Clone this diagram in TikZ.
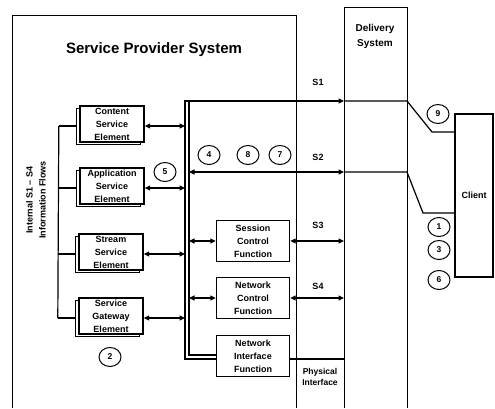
\documentclass[tikz,border=0pt]{standalone}
\usepackage{fontspec}
\setmainfont{Liberation Sans}
\usetikzlibrary{shapes.geometric}
\usetikzlibrary{shadows}
\usetikzlibrary{arrows.meta}

\tikzset{
  lbl/.style={align=center, inner sep=0pt, font=\fontsize{9}{13}\selectfont\bfseries},
  elem/.style={lbl, draw, fill=white, line width=1.4pt, minimum width=64pt, minimum height=36pt,
    copy shadow={shadow xshift=-3.5pt, shadow yshift=-2.5pt, draw, fill=white, line width=1.4pt}},
  func/.style={lbl, draw, line width=1.4pt, minimum width=73pt, minimum height=41pt},
  num/.style={ellipse, draw, line width=1pt, minimum width=22pt, minimum height=19pt, inner sep=0pt,
    font=\fontsize{8.5}{10}\selectfont\bfseries},
  frame/.style={line width=1pt},
}

\begin{document}
\begin{tikzpicture}[x=1pt, y=-1pt, line width=1.2pt, >={Triangle[length=5.5pt,width=5pt]}]
  \useasboundingbox (0,0) rectangle (495,408);

  % frames
  \draw[frame] (12,408) -- (12,15) -- (296,15) -- (296,408);
  \draw[frame] (344,408) -- (344,7) -- (407,7) -- (407,408);

  \node[lbl, font=\fontsize{15}{17}\selectfont\bfseries] (sps) at (154,50) {Service Provider System};
  \node[lbl, font=\fontsize{10}{15}\selectfont\bfseries] (ds) at (375,36) {Delivery\\System};
  \node[lbl, rotate=90] (flows) at (36,200) {Internal S1 -- S4\\Information Flows};

  % service elements
  \node[elem] (cse) at (112,124) {Content\\Service\\Element};
  \node[elem] (ase) at (112,186) {Application\\Service\\Element};
  \node[elem] (sse) at (111,252) {Stream\\Service\\Element};
  \node[elem] (sge) at (111,316) {Service\\Gateway\\Element};

  % functions
  \node[func] (scf) at (253,241) {Session\\Control\\Function};
  \node[func] (ncf) at (253,298) {Network\\Control\\Function};
  \node[func] (nif) at (253,356) {Network\\Interface\\Function};

  \node[lbl, draw, line width=1.4pt, minimum width=38pt, minimum height=163pt] (client) at (474,195.5) {Client};

  \coordinate (bus) at (185,101);
  \coordinate (busin) at (189,101);
  \coordinate (s1in) at (344,101);
  \coordinate (s1out) at (407,101);
  \coordinate (s2in) at (344,172);
  \coordinate (s2out) at (407,172);
  \coordinate (bend9) at (432,132);
  \coordinate (bend1) at (423,213);

  % bus
  \draw[->] ([yshift=-3pt]nif.west) -| (bus) -- (s1in);
  \draw ([yshift=1pt]nif.west) -| (busin);
  \draw[<->] (busin |- s2in) -- (s2in);

  % to the client
  \draw (s1in) -- (s1out) -- (bend9) -- (client.west |- bend9);
  \draw (s2in) -- (s2out) -- (bend1) -- (client.west |- bend1);

  % element links
  \foreach \e in {cse,ase,sse,sge}{
    \draw[<->] ([yshift=-2pt]\e.east) -- ([yshift=-2pt]\e.east -| bus);
    \draw ([xshift=-3.5pt,yshift=-2pt]\e.west) -- ++(-17,0);
  }
  \draw ([xshift=-20.5pt,yshift=-2pt]cse.west) -- ([xshift=-20.5pt,yshift=-2pt]sge.west);

  % function links
  \foreach \f in {scf,ncf}{
    \draw[<->] (busin |- \f.west) -- (\f.west);
    \draw[<->] (\f.east) -- (\f.east -| s1in);
  }
  \draw[line width=2pt] ([yshift=-3pt]nif.east) -- ([yshift=-3pt]nif.east -| s1in);

  \node[lbl] (s1) at (318,82) {S1};
  \node[lbl] (s2) at (318,157) {S2};
  \node[lbl] (s3) at (318,225) {S3};
  \node[lbl] (s4) at (318,286) {S4};
  \node[lbl, font=\fontsize{8.5}{11.5}\selectfont\bfseries] (phys) at (320,377) {Physical\\Interface};

  % numbered flows
  \node[num] (n5) at (165,172) {5};
  \node[num] (n4) at (209,155) {4};
  \node[num] (n8) at (248,155) {8};
  \node[num] (n7) at (280,155) {7};
  \node[num] (n9) at (438,114) {9};
  \node[num] (n1) at (439,227) {1};
  \node[num] (n3) at (439,250) {3};
  \node[num] (n6) at (439,280) {6};
  \node[num] (n2) at (110,357) {2};

\end{tikzpicture}
\end{document}
